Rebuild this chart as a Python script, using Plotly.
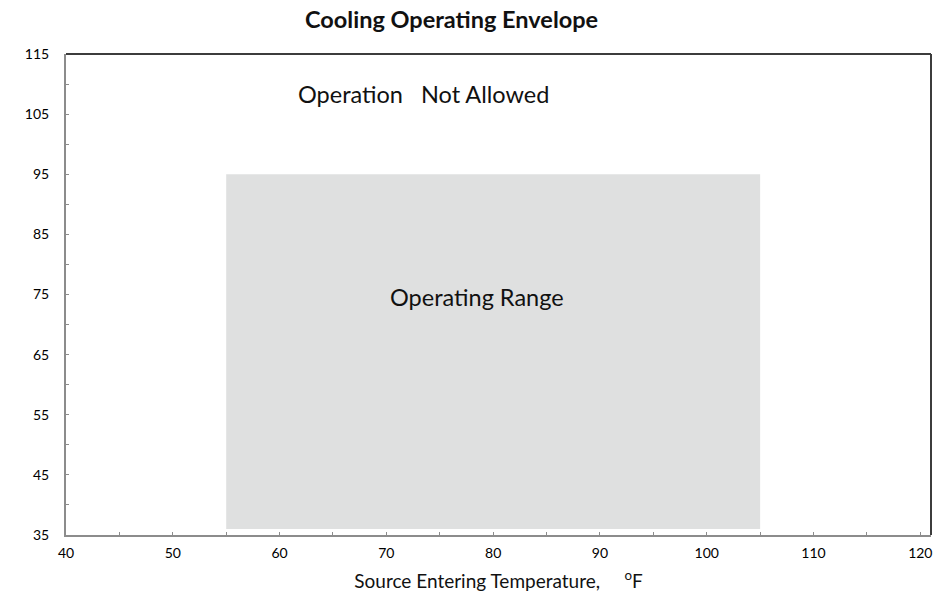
import plotly.graph_objects as go

# Data
range_x = [55, 105, 105, 55, 55]
range_y = [36, 36, 95, 95, 36]
x_ticks = [40, 50, 60, 70, 80, 90, 100, 110, 120]
y_ticks = [35, 45, 55, 65, 75, 85, 95, 105, 115]
label_not_allowed = ("Operation\u00a0\u00a0\u00a0Not Allowed", 73.5, 108.3)
label_range = ("Operating Range", 78.5, 74.6)

FONT = "Lato"

fig = go.Figure()
fig.add_trace(go.Scatter(
    x=range_x, y=range_y, mode="lines", fill="toself",
    fillcolor="#dfe0e0", line=dict(width=0, color="#dfe0e0"),
    hoverinfo="skip", showlegend=False))

for txt, ax, ay in [label_not_allowed, label_range]:
    fig.add_annotation(x=ax, y=ay, text=txt, showarrow=False,
                       font=dict(family=FONT, size=23.5, color="#111111"),
                       xanchor="center", yanchor="middle")

# top and right frame lines (darker)
fig.add_shape(type="line", xref="paper", yref="paper", x0=0, x1=1, y0=1, y1=1,
              line=dict(color="#3c3c3c", width=2))
fig.add_shape(type="line", xref="paper", yref="paper", x0=1, x1=1, y0=0, y1=1,
              line=dict(color="#3c3c3c", width=2))

fig.update_layout(
    width=935, height=592,
    margin=dict(l=66, r=4, t=54, b=57, autoexpand=False),
    paper_bgcolor="white", plot_bgcolor="white",
    title=dict(text="<b>Cooling Operating Envelope</b>", x=0.483, xanchor="center",
               y=0.966, yanchor="middle",
               font=dict(family=FONT, size=23.5, color="#111111")),
    font=dict(family=FONT, color="#111111"),
    showlegend=False,
)
fig.update_xaxes(
    range=[40, 121], tickvals=x_ticks, ticktext=[str(v) for v in x_ticks],
    automargin=False,
    showgrid=False, zeroline=False, showline=True, linecolor="#8c8c8c", linewidth=2,
    ticks="inside", ticklen=3, tickcolor="#8c8c8c", tickwidth=1,
    minor=dict(dtick=5, tick0=0, ticks="inside", ticklen=3, tickcolor="#8c8c8c"),
    tickfont=dict(family=FONT, size=14, color="#000000"),
    ticklabelstandoff=4,
    title=dict(text="Source Entering Temperature,\u00a0\u00a0\u00a0\u00a0\u00a0<sup>o</sup>F",
               font=dict(family=FONT, size=19, color="#111111"), standoff=15),
)
fig.update_yaxes(
    range=[35, 115], tickvals=y_ticks, ticktext=[str(v) for v in y_ticks],
    automargin=False,
    showgrid=False, zeroline=False, showline=True, linecolor="#8c8c8c", linewidth=2,
    ticks="inside", ticklen=3, tickcolor="#8c8c8c", tickwidth=1,
    minor=dict(dtick=5, tick0=0, ticks="inside", ticklen=3, tickcolor="#8c8c8c"),
    tickfont=dict(family=FONT, size=14, color="#000000"),
    ticklabelstandoff=12,
)

fig.write_html(
    "out.html",
    config={"displayModeBar": False},
    post_script="document.body.style.margin='0';document.body.style.overflow='hidden';",
)
